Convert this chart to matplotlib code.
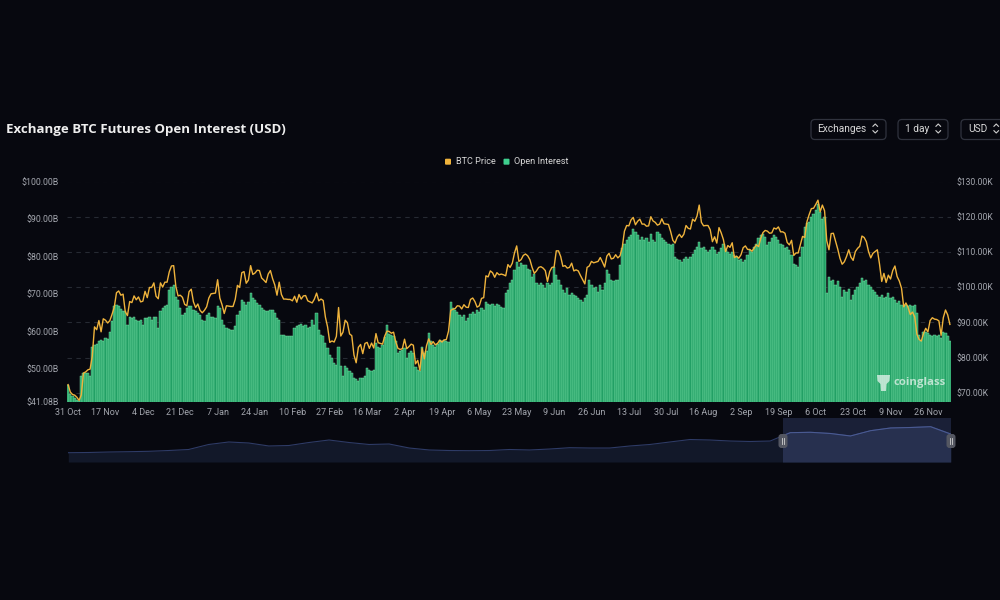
import matplotlib
matplotlib.use("Agg")
import matplotlib.pyplot as plt
from matplotlib.patches import FancyBboxPatch, Rectangle, Polygon
import numpy as np
import pandas as pd

# ---------------- data ----------------
start_date = "2024-10-31"

# Open interest, billions USD, one value per day (31 Oct 2024 .. 6 Dec 2025)
open_interest_b = [
    45.7,
    43.1, 42.6, 42.2, 41.6, 41.3, 48.0, 48.9, 48.7, 48.7, 48.1, 55.9, 56.4, 56.6, 57.3, 57.7,
    57.5, 58.2, 57.9, 59.9, 62.6, 66.6, 67.0, 66.6, 65.9, 65.5, 65.3, 61.7, 63.9, 63.5, 63.9,
    62.9, 62.6, 63.0, 61.7, 63.5, 63.5, 63.9, 63.0, 63.9, 63.9, 60.8, 65.3, 66.1, 66.6, 67.0,
    71.0, 71.9, 72.3, 69.2, 68.4, 66.1, 64.4, 64.8, 66.1, 66.6, 66.6, 65.7, 65.3, 64.8, 64.4, 63.0,
    62.6, 64.4, 64.8, 63.9, 63.9, 63.5, 66.6, 66.1, 63.0, 61.7, 60.8, 60.5, 60.4, 60.4, 61.3,
    64.4, 65.3, 68.4, 67.9, 67.0, 67.9, 70.1, 68.8, 68.4, 67.5, 67.0, 66.1, 65.7, 65.3, 65.3, 65.7,
    65.7, 64.8, 63.5, 63.0, 59.0, 59.0, 58.8, 58.8, 58.6, 58.8, 60.8, 61.4, 61.7, 62.0,
    61.3, 61.7, 60.8, 61.1, 63.0, 61.7, 64.8, 60.4, 59.0, 58.6, 56.8, 55.5, 53.7, 52.8,
    51.5, 51.1, 55.9, 50.6, 48.0, 50.6, 50.2, 49.3, 48.9, 47.5, 47.1, 46.6, 47.5, 47.5, 48.0,
    50.2, 49.7, 49.3, 49.7, 56.8, 55.8, 55.4, 56.2, 58.5, 61.7, 59.2, 59.0, 58.6, 57.5, 54.2, 54.7,
    55.1, 55.6, 52.8, 54.2, 54.7, 54.2, 50.5, 49.7, 49.3, 55.9, 54.2, 54.7, 59.5, 57.5, 56.2,
    55.8, 56.6, 57.7, 57.3, 57.7, 57.3, 57.0, 67.9, 66.1, 65.6, 65.2, 64.2, 63.8, 64.2, 62.6,
    63.5, 64.6, 65.2, 64.6, 65.6, 65.2, 66.1, 65.6, 67.9, 67.4, 67.0, 67.4, 66.8, 67.4, 67.0,
    66.5, 66.1, 70.2, 71.0, 72.8, 73.7, 76.3, 78.5, 77.2, 78.1, 77.6, 77.6, 76.7, 76.3, 74.6, 75.2,
    72.8, 72.4, 72.8, 72.4, 71.5, 72.8, 72.4, 72.8, 77.2, 75.0, 73.7, 72.4, 71.0, 70.2, 71.5,
    69.7, 70.2, 69.7, 69.3, 68.8, 68.4, 67.9, 68.8, 69.7, 73.7, 72.4, 71.5, 71.9, 70.6, 72.4,
    71.0, 72.8, 76.3, 75.4, 73.7, 73.3, 73.7, 73.7, 77.6, 82.1, 83.4, 84.3, 85.2, 85.6, 87.4,
    86.5, 85.6, 84.3, 85.2, 84.3, 84.8, 83.9, 86.1, 84.3, 83.9, 86.5, 86.1, 84.8, 84.3, 83.9, 83.4,
    82.9, 83.4, 79.9, 79.4, 79.0, 78.5, 79.4, 79.9, 79.4, 79.9, 80.7, 81.6, 82.5, 83.9, 82.1,
    82.5, 81.6, 81.2, 81.6, 82.5, 81.6, 80.7, 81.2, 82.1, 83.4, 81.6, 81.2, 80.7, 81.2, 80.3, 79.9,
    79.0, 79.4, 78.5, 79.0, 80.3, 81.6, 81.2, 82.5, 83.4, 84.8, 85.7, 86.1, 85.2, 83.0, 83.9,
    84.8, 85.7, 85.2, 84.3, 83.4, 82.9, 82.1, 82.5, 81.6, 80.3, 77.9, 77.6, 77.2, 79.9, 82.5,
    87.8, 88.8, 89.2, 90.5, 91.4, 92.3, 94.1, 91.8, 90.1, 90.5, 70.1, 74.6, 73.3, 73.7, 72.4,
    73.3, 71.9, 69.2, 71.0, 70.6, 71.4, 68.4, 69.7, 71.0, 71.9, 72.8, 74.1, 73.3, 73.7, 72.4, 71.9,
    71.0, 70.6, 69.7, 69.2, 69.7, 68.8, 69.2, 70.1, 68.8, 69.2, 68.4, 67.5, 68.0, 67.0, 66.6,
    67.0, 66.6, 67.0, 66.6, 67.0, 64.8, 59.0, 57.3, 59.9, 59.9, 59.5, 59.0, 58.6, 59.0, 58.6,
    59.0, 58.1, 59.9, 59.5, 58.6, 57.3,
]

# BTC price, thousands USD, one value per day (same dates)
btc_price_k = [
    72.3,
    70.2, 69.5, 69.3, 68.7, 67.8, 69.4, 75.6, 75.9, 76.5, 76.7, 80.4, 88.7, 87.9, 90.5, 87.3,
    91.0, 90.6, 89.8, 90.5, 92.3, 94.3, 98.4, 98.9, 97.7, 98.0, 93.0, 91.9, 95.9, 95.6, 97.5,
    96.4, 97.2, 95.8, 96.0, 98.8, 97.0, 99.9, 99.9, 101.2, 97.4, 96.7, 101.2, 100.0, 101.4, 101.4,
    104.3, 106.0, 106.1, 100.2, 97.5, 97.7, 97.1, 95.1, 94.7, 98.7, 99.4, 95.8, 94.2, 95.2, 93.4, 92.7,
    93.4, 94.4, 96.9, 98.1, 98.2, 98.3, 102.1, 96.9, 95.0, 92.5, 94.7, 94.6, 94.5, 94.5, 96.5,
    100.5, 99.9, 104.1, 104.4, 101.1, 102.0, 106.1, 103.6, 104.0, 104.8, 104.7, 102.6, 102.0, 101.3, 103.7, 104.7,
    102.4, 100.6, 97.7, 101.4, 97.9, 96.6, 96.6, 96.5, 96.5, 96.1, 97.4, 95.7, 97.9, 96.6,
    97.5, 97.6, 96.1, 95.8, 95.5, 96.6, 98.3, 96.1, 96.6, 96.2, 91.5, 88.7, 84.3, 84.7,
    84.4, 86.0, 94.2, 86.1, 87.2, 90.6, 89.9, 86.7, 86.2, 80.7, 78.5, 82.9, 83.7, 81.1, 84.0,
    84.3, 82.6, 84.1, 82.7, 86.8, 84.2, 84.0, 83.8, 86.1, 87.5, 87.4, 86.9, 87.2, 84.4, 82.6, 82.3,
    82.5, 85.2, 82.5, 83.1, 83.8, 83.5, 78.2, 79.2, 76.3, 82.6, 79.6, 83.4, 85.3, 83.7, 84.5,
    83.6, 84.0, 84.9, 84.4, 85.0, 85.1, 87.5, 93.4, 93.7, 93.9, 94.7, 94.6, 93.8, 95.0, 94.3,
    94.2, 96.5, 96.9, 95.9, 94.3, 94.7, 96.8, 97.0, 103.2, 102.9, 104.6, 104.1, 102.8, 104.1, 103.5,
    103.7, 103.5, 103.2, 106.4, 105.6, 106.8, 109.7, 111.7, 107.3, 107.8, 109.0, 109.4, 108.9, 107.8, 105.6, 103.9,
    104.6, 105.6, 105.8, 105.4, 104.7, 101.6, 104.4, 105.6, 105.7, 110.3, 110.3, 108.7, 105.9, 106.1, 105.4,
    105.6, 106.8, 104.6, 104.9, 104.6, 103.3, 102.1, 100.9, 105.6, 106.0, 107.3, 106.9, 107.1, 107.3, 108.4,
    107.1, 105.7, 108.8, 109.6, 108.0, 108.2, 109.2, 108.3, 108.9, 111.3, 115.9, 117.5, 117.4, 119.1, 119.8,
    117.7, 118.7, 119.3, 117.9, 117.9, 117.3, 117.4, 120.0, 118.8, 118.4, 117.6, 117.9, 119.4, 118.0, 117.9, 117.8,
    115.8, 113.3, 112.5, 114.2, 115.0, 114.1, 115.0, 117.5, 116.7, 116.5, 119.3, 118.7, 120.2, 123.3, 118.4,
    117.4, 117.5, 117.5, 116.3, 112.9, 114.3, 112.5, 116.9, 115.4, 113.5, 110.1, 111.8, 111.3, 112.6, 108.4, 108.8,
    108.2, 109.2, 111.2, 111.7, 110.7, 110.7, 110.2, 111.1, 112.0, 111.5, 113.9, 115.5, 116.1, 115.9, 115.3,
    115.4, 116.8, 116.5, 117.1, 115.7, 115.7, 115.3, 112.7, 112.0, 113.3, 109.0, 109.7, 109.7, 112.1, 114.4,
    114.1, 118.6, 120.6, 122.3, 122.4, 123.5, 124.7, 121.4, 123.3, 121.7, 113.2, 110.6, 115.2, 115.3, 113.1,
    110.8, 108.2, 106.5, 107.2, 108.7, 110.6, 108.5, 107.6, 110.1, 111.0, 111.6, 114.5, 114.1, 112.9, 110.1, 108.3,
    109.6, 110.1, 110.6, 106.5, 101.6, 103.9, 101.3, 103.4, 102.3, 104.7, 106.0, 103.0, 101.7, 99.7, 94.4,
    95.5, 94.2, 92.2, 92.9, 91.5, 86.6, 85.1, 84.7, 86.8, 88.3, 87.3, 90.5, 91.3, 90.9, 90.8,
    90.4, 86.3, 91.3, 93.5, 92.1, 89.4,
]

x_tick_labels = ["31 Oct", "17 Nov", "4 Dec", "21 Dec", "7 Jan", "24 Jan", "10 Feb", "27 Feb",
                 "16 Mar", "2 Apr", "19 Apr", "6 May", "23 May", "9 Jun", "26 Jun", "13 Jul",
                 "30 Jul", "16 Aug", "2 Sep", "19 Sep", "6 Oct", "23 Oct", "9 Nov", "26 Nov"]
x_tick_step = 17

left_ticks = [41.08, 50, 60, 70, 80, 90, 100]
left_tick_labels = ["$41.08B", "$50.00B", "$60.00B", "$70.00B", "$80.00B", "$90.00B", "$100.00B"]
right_ticks = [70, 80, 90, 100, 110, 120, 130]
right_tick_labels = ["$70.00K", "$80.00K", "$90.00K", "$100.00K", "$110.00K", "$120.00K", "$130.00K"]
left_limits = (41.08, 100.0)
right_limits = (67.36, 130.0)

# data-zoom slider shadow (relative height 0-100, evenly spaced over full history)
navigator_shadow = [21.1, 21.6, 22.7, 23.4, 24.3, 26.1, 28.4, 39.8, 45.5, 43.2, 36.4, 37.5,
                    44.3, 50.0, 44.3, 39.8, 40.9, 31.8, 27.3, 26.1, 25.7, 26.1, 28.4, 27.3,
                    29.5, 32.5, 31.8, 31.8, 36.4, 39.8, 45.5, 51.1, 50.0, 47.7, 46.6, 47.7,
                    66.6, 67.5, 64.8, 59.1, 71.1, 77.3, 78.4, 80.2, 63.6]
window_start_frac = 0.8096

title = "Exchange BTC Futures Open Interest (USD)"
legend_labels = ["BTC Price", "Open Interest"]
button_labels = ["Exchanges", "1 day", "USD"]

assert len(open_interest_b) == len(btc_price_k)

# ---------------- style ----------------
BG = "#07080f"
GREEN = "#22a065"
GREEN_EDGE = "#86e8ae"
GOLD = "#efb33c"
TICK = "#a2a5ad"
GRID = "#262a33"
FONT = "Roboto"

plt.rcParams["font.family"] = [FONT, "DejaVu Sans"]

fig = plt.figure(figsize=(10, 6), dpi=100, facecolor=BG)
renderer = fig.canvas.get_renderer()


def fit(txt, target_px):
    w = txt.get_window_extent(renderer).width
    txt.set_fontsize(txt.get_fontsize() * target_px / w)


def size_for(sample, target_px, weight="normal", family=FONT):
    t = fig.text(0, 0, sample, fontsize=10, fontweight=weight, family=family)
    w = t.get_window_extent(renderer).width
    t.remove()
    return 10 * target_px / w


dates = pd.date_range(start_date, periods=len(open_interest_b), freq="D")
idx = np.arange(len(dates))

rect = [0.067, 0.33, 0.884, 0.3675]
ax_grid = fig.add_axes(rect)
ax_bar = fig.add_axes(rect)
ax_price = ax_bar.twinx()

for a in (ax_grid, ax_bar, ax_price):
    a.set_facecolor("none")
    for s in a.spines.values():
        s.set_visible(False)
    a.set_xlim(-0.5, len(idx) - 0.5)

# grid lines follow the right (price) scale
ax_grid.set_ylim(*right_limits)
for v in right_ticks:
    ax_grid.axhline(v, color=GRID, lw=0.8, ls=(0, (4, 4)), zorder=0)
ax_grid.set_xticks([])
ax_grid.set_yticks([])

# bars
ax_bar.bar(idx, open_interest_b, width=1.0, color=GREEN, edgecolor=GREEN_EDGE,
           linewidth=0.3, zorder=2)
ax_bar.set_ylim(*left_limits)
tick_fs = size_for("$100.00B", 37)
ax_bar.set_yticks(left_ticks)
ax_bar.set_yticklabels(left_tick_labels)
ax_bar.tick_params(axis="y", length=0, pad=5.8, labelcolor=TICK, labelsize=tick_fs)
ax_bar.set_xticks(idx[::x_tick_step])
ax_bar.set_xticklabels(x_tick_labels)
x_fs = size_for("31 Oct", 26)
ax_bar.tick_params(axis="x", length=0, pad=4.3, labelcolor=TICK, labelsize=x_fs)

# price line
ax_price.plot(idx, btc_price_k, color=GOLD, lw=1.0, solid_joinstyle="round", zorder=3)
ax_price.set_ylim(*right_limits)
ax_price.set_yticks(right_ticks)
ax_price.set_yticklabels(right_tick_labels)
r_fs = size_for("$130.00K", 36.7)
ax_price.tick_params(axis="y", length=0, pad=3.6, labelcolor=TICK, labelsize=r_fs)

# ---------------- navigator (data zoom slider) ----------------
ax_nav = fig.add_axes([0.0683, 1 - 462 / 600, 0.8824, 44 / 600])
ax_nav.set_facecolor("none")
for s in ax_nav.spines.values():
    s.set_visible(False)
ax_nav.set_xticks([])
ax_nav.set_yticks([])
nx = np.linspace(0, 1, len(navigator_shadow))
ax_nav.set_xlim(0, 1)
ax_nav.set_ylim(0, 100)
ax_nav.fill_between(nx, navigator_shadow, 0, color="#121829", lw=0, zorder=1)
ax_nav.plot(nx, navigator_shadow, color="#2e3b66", lw=0.8, zorder=2)
sel = Rectangle((window_start_frac, 0), 1 - window_start_frac, 100, facecolor="#1a2037",
                edgecolor="none", zorder=0.5)
ax_nav.add_patch(sel)
clip = Rectangle((window_start_frac, 0), 1 - window_start_frac, 100, transform=ax_nav.transData,
                 facecolor="none", edgecolor="none")
ax_nav.add_patch(clip)
f2 = ax_nav.fill_between(nx, navigator_shadow, 0, color="#27304f", lw=0, zorder=1.5)
f2.set_clip_path(clip)
l2, = ax_nav.plot(nx, navigator_shadow, color="#4a5a92", lw=0.8, zorder=2.5)
l2.set_clip_path(clip)

# ---------------- decorations in pixel coordinates ----------------
deco = fig.add_axes([0, 0, 1, 1])
deco.set_xlim(0, 1000)
deco.set_ylim(600, 0)
deco.axis("off")
deco.set_facecolor("none")

t = deco.text(6, 129.5, title, color="#eeeeee", fontweight="bold", family="Open Sans",
              fontsize=10, va="center", ha="left")
fit(t, 280)

# legend
leg_fs = size_for("Open Interest", 55)
deco.add_patch(FancyBboxPatch((445, 158.7), 6, 6, boxstyle="round,pad=0,rounding_size=1",
                              facecolor=GOLD, edgecolor="none"))
deco.text(456, 161.7, legend_labels[0], color="#d6d6d6", fontsize=leg_fs, va="center", ha="left")
deco.add_patch(FancyBboxPatch((503.5, 158.7), 6, 6, boxstyle="round,pad=0,rounding_size=1",
                              facecolor="#3ecf8e", edgecolor="none"))
deco.text(514.3, 161.7, legend_labels[1], color="#d6d6d6", fontsize=leg_fs, va="center", ha="left")

# buttons
btn_fs = size_for("Exchanges", 49)
buttons = [(811, 886, 817), (898, 948, 905), (961, 1010, 968)]
for (x0, x1, tx), lab in zip(buttons, button_labels):
    deco.add_patch(FancyBboxPatch((x0, 119.5), x1 - x0, 20, boxstyle="round,pad=0,rounding_size=4",
                                  facecolor="none", edgecolor="#30333e", lw=0.9))
    tt = deco.text(tx, 128.5, lab, color="#d8d8d8", fontsize=btn_fs, va="center", ha="left")
    w = tt.get_window_extent(renderer).width
    cx = tx + w + 9
    deco.plot([cx - 2.3, cx, cx + 2.3], [126.3, 124.0, 126.3], color="#cfcfcf", lw=0.8)
    deco.plot([cx - 2.3, cx, cx + 2.3], [130.7, 133.0, 130.7], color="#cfcfcf", lw=0.8)

# navigator handles
for hx in (783, 951):
    deco.add_patch(FancyBboxPatch((hx - 4.5, 434), 9, 14, boxstyle="round,pad=0,rounding_size=3",
                                  facecolor="#545762", edgecolor="none"))
    deco.plot([hx - 1.3, hx - 1.3], [438, 444], color="#d0d0d0", lw=0.6)
    deco.plot([hx + 1.3, hx + 1.3], [438, 444], color="#d0d0d0", lw=0.6)

# watermark
deco.add_patch(Polygon([(877, 375), (890, 375), (889.5, 381), (886.5, 384), (886, 391),
                        (881, 391), (880.5, 384), (877.5, 381)], closed=True,
                       facecolor="#e8f4ee", edgecolor="none", alpha=0.75))
wm = deco.text(893, 382.5, "coinglass", color="#e8f4ee", alpha=0.75, fontweight="bold",
               family="Open Sans", fontsize=10, va="center", ha="left")
fit(wm, 52)

fig.savefig("out.png", dpi=100, facecolor=BG)
